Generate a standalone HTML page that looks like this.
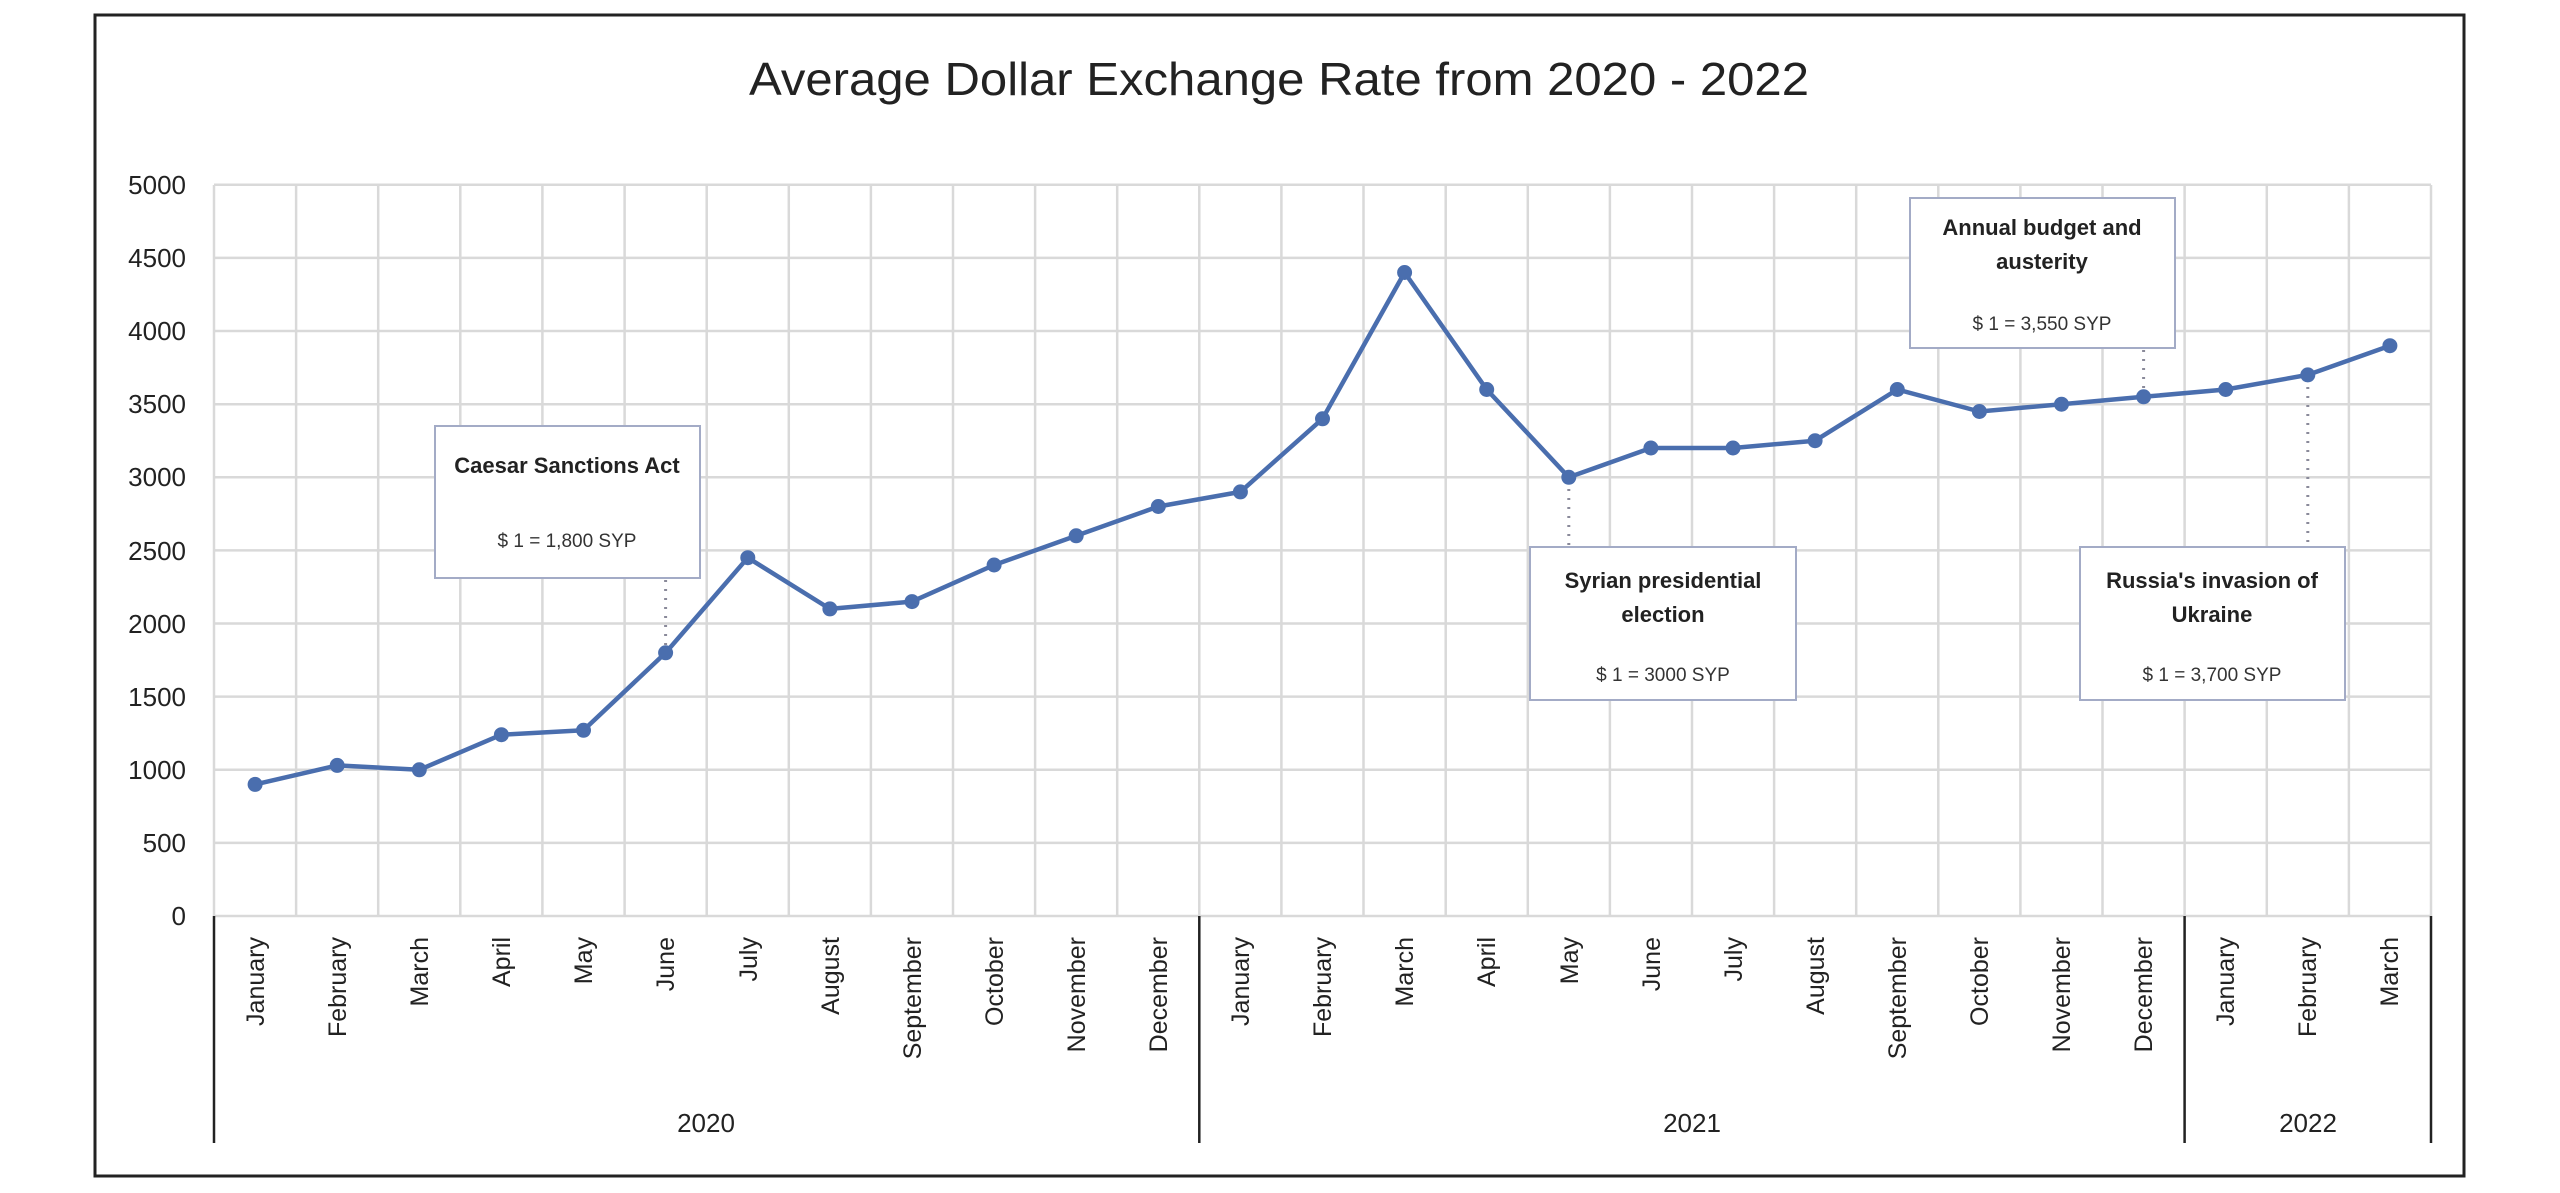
<!DOCTYPE html>
<html><head><meta charset="utf-8"><style>
html,body{margin:0;padding:0;background:#fff;}
svg{display:block;}
text{font-family:"Liberation Sans",sans-serif;}
</style></head><body>
<svg width="2560" height="1193" viewBox="0 0 2560 1193" xmlns="http://www.w3.org/2000/svg">
<defs>
<linearGradient id="sep" x1="0" x2="1" y1="0" y2="0">
<stop offset="0" stop-color="#4a6eae" stop-opacity="0.1"/>
<stop offset="0.5" stop-color="#4a6eae" stop-opacity="0.9"/>
<stop offset="1" stop-color="#4a6eae" stop-opacity="0.1"/>
</linearGradient>
</defs>
<rect x="0" y="0" width="2560" height="1193" fill="#fff"/>
<rect x="95" y="15" width="2369" height="1161" fill="none" stroke="#222" stroke-width="3"/>
<text x="1279" y="95" font-size="46" text-anchor="middle" fill="#222" textLength="1060" lengthAdjust="spacingAndGlyphs">Average Dollar Exchange Rate from 2020 - 2022</text>

<g stroke="#d9d9d9" stroke-width="2.5">
<line x1="214" x2="2431" y1="842.9" y2="842.9"/><line x1="214" x2="2431" y1="769.8" y2="769.8"/>
<line x1="214" x2="2431" y1="696.6" y2="696.6"/><line x1="214" x2="2431" y1="623.5" y2="623.5"/>
<line x1="214" x2="2431" y1="550.4" y2="550.4"/><line x1="214" x2="2431" y1="477.3" y2="477.3"/>
<line x1="214" x2="2431" y1="404.2" y2="404.2"/><line x1="214" x2="2431" y1="331" y2="331"/>
<line x1="214" x2="2431" y1="257.9" y2="257.9"/><line x1="214" x2="2431" y1="184.8" y2="184.8"/>
<line x1="214" x2="2431" y1="916" y2="916"/>
<line x1="214" x2="214" y1="185" y2="916"/><line x1="296.1" x2="296.1" y1="185" y2="916"/>
<line x1="378.2" x2="378.2" y1="185" y2="916"/><line x1="460.3" x2="460.3" y1="185" y2="916"/>
<line x1="542.4" x2="542.4" y1="185" y2="916"/><line x1="624.6" x2="624.6" y1="185" y2="916"/>
<line x1="706.7" x2="706.7" y1="185" y2="916"/><line x1="788.8" x2="788.8" y1="185" y2="916"/>
<line x1="870.9" x2="870.9" y1="185" y2="916"/><line x1="953" x2="953" y1="185" y2="916"/>
<line x1="1035.1" x2="1035.1" y1="185" y2="916"/><line x1="1117.2" x2="1117.2" y1="185" y2="916"/>
<line x1="1199.3" x2="1199.3" y1="185" y2="916"/><line x1="1281.4" x2="1281.4" y1="185" y2="916"/>
<line x1="1363.5" x2="1363.5" y1="185" y2="916"/><line x1="1445.7" x2="1445.7" y1="185" y2="916"/>
<line x1="1527.8" x2="1527.8" y1="185" y2="916"/><line x1="1609.9" x2="1609.9" y1="185" y2="916"/>
<line x1="1692" x2="1692" y1="185" y2="916"/><line x1="1774.1" x2="1774.1" y1="185" y2="916"/>
<line x1="1856.2" x2="1856.2" y1="185" y2="916"/><line x1="1938.3" x2="1938.3" y1="185" y2="916"/>
<line x1="2020.4" x2="2020.4" y1="185" y2="916"/><line x1="2102.5" x2="2102.5" y1="185" y2="916"/>
<line x1="2184.6" x2="2184.6" y1="185" y2="916"/><line x1="2266.8" x2="2266.8" y1="185" y2="916"/>
<line x1="2348.9" x2="2348.9" y1="185" y2="916"/><line x1="2431" x2="2431" y1="185" y2="916"/>
</g>

<g font-size="26" fill="#222" text-anchor="end">
<text x="186" y="925">0</text><text x="186" y="852">500</text><text x="186" y="779">1000</text>
<text x="186" y="706">1500</text><text x="186" y="633">2000</text><text x="186" y="560">2500</text>
<text x="186" y="486">3000</text><text x="186" y="413">3500</text><text x="186" y="340">4000</text>
<text x="186" y="267">4500</text><text x="186" y="194">5000</text>
</g>

<g stroke="#222" stroke-width="2.5">
<line x1="214" x2="214" y1="916" y2="1143"/>
<line x1="1199.3" x2="1199.3" y1="916" y2="1143"/>
<line x1="2184.6" x2="2184.6" y1="916" y2="1143"/>
<line x1="2431" x2="2431" y1="916" y2="1143"/>
</g>

<g font-size="25" fill="#222" text-anchor="end">
<text transform="translate(264,937) rotate(-90)">January</text>
<text transform="translate(346,937) rotate(-90)">February</text>
<text transform="translate(428,937) rotate(-90)">March</text>
<text transform="translate(510,937) rotate(-90)">April</text>
<text transform="translate(592,937) rotate(-90)">May</text>
<text transform="translate(674,937) rotate(-90)">June</text>
<text transform="translate(757,937) rotate(-90)">July</text>
<text transform="translate(839,937) rotate(-90)">August</text>
<text transform="translate(921,937) rotate(-90)">September</text>
<text transform="translate(1003,937) rotate(-90)">October</text>
<text transform="translate(1085,937) rotate(-90)">November</text>
<text transform="translate(1167,937) rotate(-90)">December</text>
<text transform="translate(1249,937) rotate(-90)">January</text>
<text transform="translate(1331,937) rotate(-90)">February</text>
<text transform="translate(1413,937) rotate(-90)">March</text>
<text transform="translate(1495,937) rotate(-90)">April</text>
<text transform="translate(1578,937) rotate(-90)">May</text>
<text transform="translate(1660,937) rotate(-90)">June</text>
<text transform="translate(1742,937) rotate(-90)">July</text>
<text transform="translate(1824,937) rotate(-90)">August</text>
<text transform="translate(1906,937) rotate(-90)">September</text>
<text transform="translate(1988,937) rotate(-90)">October</text>
<text transform="translate(2070,937) rotate(-90)">November</text>
<text transform="translate(2152,937) rotate(-90)">December</text>
<text transform="translate(2234,937) rotate(-90)">January</text>
<text transform="translate(2316,937) rotate(-90)">February</text>
<text transform="translate(2398,937) rotate(-90)">March</text>
</g>

<g font-size="26" fill="#222" text-anchor="middle">
<text x="706" y="1132">2020</text>
<text x="1692" y="1132">2021</text>
<text x="2308" y="1132">2022</text>
</g>

<!-- leader lines -->
<g stroke="#8a8a9a" stroke-width="3" stroke-dasharray="2,7" fill="none">
<line x1="665.6" x2="665.6" y1="580" y2="650"/>
<line x1="1568.8" x2="1568.8" y1="480" y2="547"/>
<line x1="2143.6" x2="2143.6" y1="350" y2="395"/>
<line x1="2307.8" x2="2307.8" y1="378" y2="547"/>
</g>

<polyline fill="none" stroke="#4a6eae" stroke-width="4.5" stroke-linejoin="round" points="255.1,784.4 337.2,765.4 419.3,769.8 501.4,734.7 583.5,730.3 665.6,652.8 747.8,557.7 829.9,608.9 912,601.6 994.1,565 1076.2,535.8 1158.3,506.5 1240.4,491.9 1322.5,418.8 1404.6,272.5 1486.7,389.5 1568.8,477.3 1650.9,448 1733,448 1815.1,440.7 1897.3,389.5 1979.4,411.5 2061.5,404.2 2143.6,396.8 2225.7,389.5 2307.8,374.9 2389.9,345.7"/>
<g fill="#4a6eae">
<circle cx="255.1" cy="784.4" r="7.5"/><circle cx="337.2" cy="765.4" r="7.5"/><circle cx="419.3" cy="769.8" r="7.5"/>
<circle cx="501.4" cy="734.7" r="7.5"/><circle cx="583.5" cy="730.3" r="7.5"/><circle cx="665.6" cy="652.8" r="7.5"/>
<circle cx="747.8" cy="557.7" r="7.5"/><circle cx="829.9" cy="608.9" r="7.5"/><circle cx="912" cy="601.6" r="7.5"/>
<circle cx="994.1" cy="565" r="7.5"/><circle cx="1076.2" cy="535.8" r="7.5"/><circle cx="1158.3" cy="506.5" r="7.5"/>
<circle cx="1240.4" cy="491.9" r="7.5"/><circle cx="1322.5" cy="418.8" r="7.5"/><circle cx="1404.6" cy="272.5" r="7.5"/>
<circle cx="1486.7" cy="389.5" r="7.5"/><circle cx="1568.8" cy="477.3" r="7.5"/><circle cx="1650.9" cy="448" r="7.5"/>
<circle cx="1733" cy="448" r="7.5"/><circle cx="1815.1" cy="440.7" r="7.5"/><circle cx="1897.3" cy="389.5" r="7.5"/>
<circle cx="1979.4" cy="411.5" r="7.5"/><circle cx="2061.5" cy="404.2" r="7.5"/><circle cx="2143.6" cy="396.8" r="7.5"/>
<circle cx="2225.7" cy="389.5" r="7.5"/><circle cx="2307.8" cy="374.9" r="7.5"/><circle cx="2389.9" cy="345.7" r="7.5"/>
</g>

<!-- callouts -->
<g stroke="#a3abc6" stroke-width="2" fill="#fff">
<rect x="435" y="426" width="265" height="152"/>
<rect x="1530" y="547" width="266" height="153"/>
<rect x="1910" y="198" width="265" height="150"/>
<rect x="2080" y="547" width="265" height="153"/>
</g>
<g stroke="url(#sep)" stroke-width="2.5">
<line x1="457" x2="678" y1="500" y2="500"/>
<line x1="1552" x2="1774" y1="647" y2="647"/>
<line x1="1932" x2="2153" y1="294" y2="294"/>
<line x1="2102" x2="2323" y1="647" y2="647"/>
</g>
<g font-size="22" font-weight="bold" fill="#222" text-anchor="middle">
<text x="567" y="473">Caesar Sanctions Act</text>
<text x="1663" y="588">Syrian presidential</text>
<text x="1663" y="622">election</text>
<text x="2042" y="235">Annual budget and</text>
<text x="2042" y="269">austerity</text>
<text x="2212" y="588">Russia's invasion of</text>
<text x="2212" y="622">Ukraine</text>
</g>
<g font-size="19" fill="#333" text-anchor="middle">
<text x="567" y="547">$ 1 = 1,800 SYP</text>
<text x="1663" y="681">$ 1 = 3000 SYP</text>
<text x="2042" y="330">$ 1 = 3,550 SYP</text>
<text x="2212" y="681">$ 1 = 3,700 SYP</text>
</g>
</svg>
</body></html>
